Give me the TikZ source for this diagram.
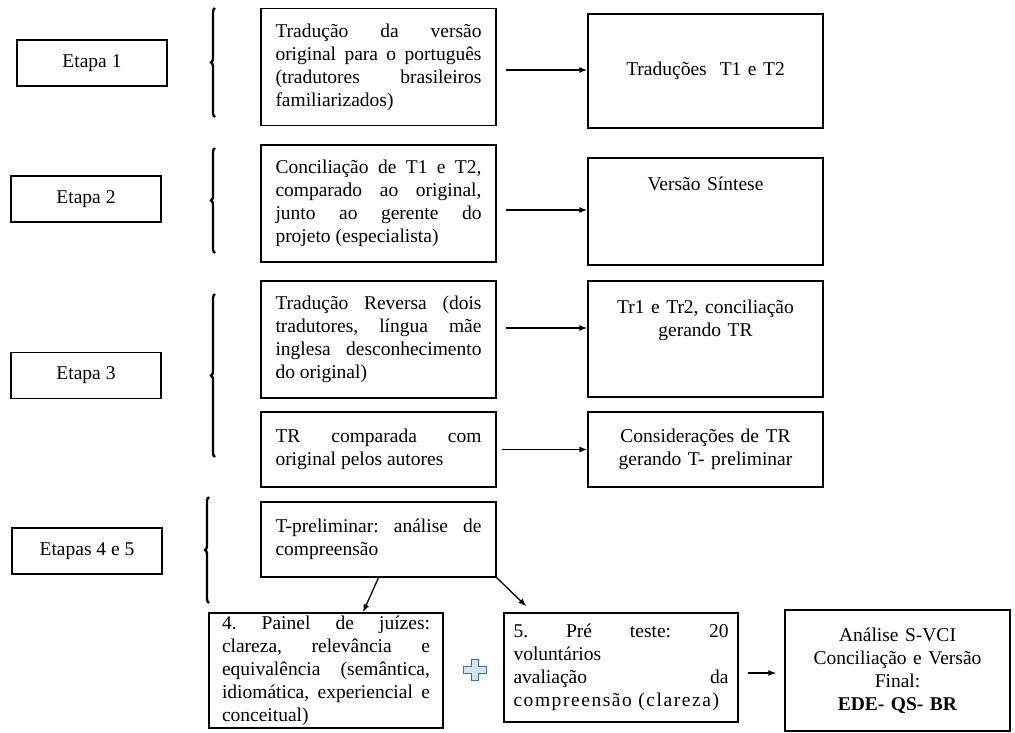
\documentclass[tikz,border=0pt]{standalone}
\usepackage{fontspec}
\setmainfont{Liberation Serif}
\usetikzlibrary{positioning,decorations.pathreplacing,arrows.meta}

\definecolor{azulbord}{HTML}{41719C}
\definecolor{azulclaro}{HTML}{DAE3F3}

\tikzset{
  estilo fluxo/.style={
      x=1pt, y=-1pt,
      node distance=327pt,
      caixa/.style={draw, line width=1.3pt, align=justify, text width=206pt, inner xsep=14.5pt, inner ysep=0pt, minimum height=117pt},
      destino/.style={draw, line width=1.3pt, align=center, text width=205pt, inner xsep=15pt},
      topo/.style={text height=14pt, inner ysep=18pt},
      etapa/.style={draw, line width=1.3pt, minimum width=150pt, minimum height=46pt, inner sep=0pt},
      seta/.style={-{Latex[length=8pt,width=6pt]}, line width=1.3pt},
      chave/.style={decorate, decoration={brace, amplitude=4pt}, line width=2.3pt},
      mais/.style={draw=azulbord, fill=azulclaro, line width=0.9pt},
      every node/.style={font={\fontsize{19.5}{23}\selectfont\frenchspacing\tolerance=9999\hbadness=10000}},
    },
}

\begin{document}
\begin{tikzpicture}[estilo fluxo]
  \useasboundingbox (0,0) rectangle (1015,733);

  % etapas
  \node[etapa] (etapa1) at (92,63) {Etapa 1};
  \node[etapa] (etapa2) at (86,199) {Etapa 2};
  \node[etapa] (etapa3) at (86,375.5) {Etapa 3};
  \node[etapa] (etapa45) at (87,551) {Etapas 4 e 5};

  \draw[chave] (215,117) -- (215,8);
  \draw[chave] (215,253) -- (215,148);
  \draw[chave] (215,457) -- (215,294);
  \draw[chave] (209,603) -- (209,497);

  \node[caixa] (trad) at (378.5,67) {Tradução da versão\linebreak original para o português\linebreak (tradutores brasileiros\linebreak familiarizados)};
  \node[destino, minimum height=114pt, right of=trad, yshift=-4pt] (t1t2) {Traduções\ \ T1 e T2};

  \node[caixa] (conc) at (378.5,203.5) {Conciliação de T1 e T2,\linebreak comparado ao original,\linebreak junto ao gerente do\linebreak projeto (especialista)};
  \node[destino, topo, text depth=57pt, right of=conc, yshift=-8pt] (sintese) {Versão Síntese};

  \node[caixa] (reversa) at (378.5,339.5) {Tradução Reversa (dois\linebreak tradutores, língua mãe\linebreak inglesa desconhecimento\linebreak do original)};
  \node[destino, topo, text depth=66pt, right of=reversa, yshift=0.5pt] (tr12) {Tr1 e Tr2, conciliação\\gerando TR};

  \node[caixa, minimum height=75pt] (trcomp) at (378.5,449.5) {TR comparada com\linebreak original pelos autores};
  \node[destino, minimum height=75pt, right of=trcomp] (consid) {Considerações de TR\\gerando T- preliminar};

  \node[caixa, minimum height=75pt] (tprelim) at (378.5,539.5) {T-preliminar: análise de\linebreak compreensão};

  \node[caixa, text width=208pt, inner xsep=13pt, minimum height=115pt] (painel) at (326,670.5) {4. Painel de juízes:\linebreak clareza, relevância e\linebreak equivalência (semântica,\linebreak idiomática, experiencial e\linebreak conceitual)};
  \node[caixa, text width=215pt, inner xsep=9.5pt, minimum height=109pt, node distance=295pt, right of=painel, yshift=3pt] (preteste) {5. Pré teste: 20\linebreak voluntários\newline avaliação da\linebreak {\addfontfeatures{LetterSpace=8}compreensão (clareza)}};
  \node[destino, inner xsep=10pt, minimum height=121pt, node distance=276.5pt, right of=preteste, yshift=-3pt] (final) {Análise S-VCI\\Conciliação e Versão\\Final:\\\textbf{EDE- QS- BR}};

  \draw[mais] (471,659) -- (478,659) -- (478,666) -- (486,666) -- (486,673) -- (478,673) -- (478,680) -- (471,680) -- (471,673) -- (463,673) -- (463,666) -- (471,666) -- cycle;

  \draw[seta] ([xshift=9pt,yshift=-3pt]trad.east) -- ([yshift=1pt]t1t2.west);
  \draw[seta] ([xshift=9pt,yshift=-6.5pt]conc.east) -- ([yshift=1.5pt]sintese.west);
  \draw[seta] ([xshift=9pt,yshift=11.5pt]reversa.east) -- ([yshift=11pt]tr12.west);
  \draw[seta] ([xshift=5pt]trcomp.east) -- (consid.west);
  \draw[seta] (tprelim.south) -- ([xshift=37pt]painel.north);
  \draw[seta] (tprelim.south east) -- ([xshift=23pt,yshift=6pt]preteste.north west);
  \draw[seta] ([xshift=9pt,yshift=-5.5pt]preteste.east) -- ([xshift=-8pt,yshift=-2.5pt]final.west);
\end{tikzpicture}
\end{document}
